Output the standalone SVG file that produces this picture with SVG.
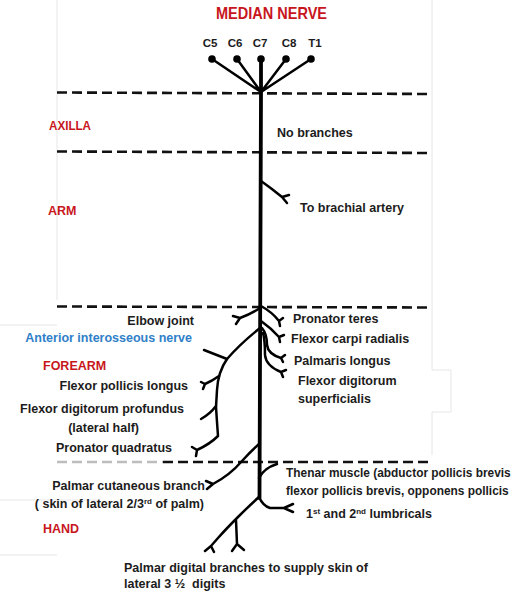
<svg xmlns="http://www.w3.org/2000/svg" width="519" height="598" viewBox="0 0 519 598">
<style>
  text { font-family: "Liberation Sans", Arial, sans-serif; font-weight: bold; font-size: 12.5px; fill: #1c1c1c; white-space: pre; }
  .red { fill: #c8161d; }
  .blue { fill: #2f80c8; }
  .end { text-anchor: end; }
  .mid { text-anchor: middle; }
  .sup { font-size: 8px; }
  .dash { stroke: #111; stroke-width: 2.6; stroke-dasharray: 10 5; fill: none; }
  .trunk { stroke: #000; stroke-width: 3.8; fill: none; stroke-linecap: round; }
  .nerve { stroke: #000; stroke-width: 2.5; fill: none; stroke-linecap: round; stroke-linejoin: round; }
  .faint { stroke: #e6e6e6; stroke-width: 1; fill: none; }
</style>
<rect width="519" height="598" fill="#fff"/>

<g id="background">
  <path class="faint" d="M432,0 V370 H451 V412 H432 V455 M57,0 V300 M0,325 H57 M0,500 H100 M0,555 H57"/>
</g>

<g id="regions">
  <line class="dash" x1="57" y1="92.5" x2="432" y2="94"/>
  <line class="dash" x1="57" y1="151.5" x2="432" y2="153"/>
  <line class="dash" x1="57" y1="306.5" x2="432" y2="307.5"/>
  <line class="dash" x1="57" y1="462" x2="163" y2="462" style="stroke:#bdbdbd"/>
  <line class="dash" x1="163" y1="462" x2="430" y2="462"/>
</g>

<g id="connectors">
  <g id="roots">
    <circle cx="212" cy="59" r="3.8" fill="#000"/>
    <circle cx="237" cy="59" r="3.8" fill="#000"/>
    <circle cx="261" cy="59" r="3.8" fill="#000"/>
    <circle cx="286" cy="59" r="3.8" fill="#000"/>
    <circle cx="311" cy="59" r="3.8" fill="#000"/>
    <path class="nerve" d="M212,59 L261,92 M237,59 L261,92 M286,59 L261,92 M311,59 L261,92"/>
  </g>
  <path class="trunk" d="M261,59 L261,92 L259.5,498"/>
  <path class="nerve" d="M261,181 Q271,188 282,197 M282,197 L289,195 M282,197 L287,203"/>
  <path class="nerve" d="M260,308 Q251,314 240,318 M240,318 L233,316 M240,318 L236,324"/>
  <path class="nerve" d="M261,306 Q272,312 279,321 M279,321 L283,318 M279,321 L280,326"/>
  <path class="nerve" d="M261,321 Q271,328 279,337 M279,337 L284,335 M279,337 L280,342"/>
  <path class="nerve" d="M262,328 Q267,334 267,345 Q268,354 281,358 M281,358 L285,355 M281,358 L283,362"/>
  <path class="nerve" d="M263,333 Q265,340 265,355 Q266,366 281,372 M281,372 L286,370 M281,372 L283,377"/>
  <path class="nerve" d="M260,328 Q240,344 227,359 Q218,372 217,390 L216,407 L217,422 L218,436 Q210,444 197,450 M197,450 L192,447 M197,450 L196,456"/>
  <path class="nerve" d="M227,359 L204,350"/>
  <path class="nerve" d="M219,376 Q212,381 205,384 M205,384 L201,382 M205,384 L203,389"/>
  <path class="nerve" d="M216,406 Q210,414 201,419"/>
  <path class="nerve" d="M259,444 Q250,452 242,461 Q230,475 213,484 M213,484 L206,481 M213,484 L207,489"/>
  <path class="nerve" d="M259,478 Q264,468 277,464"/>
  <path class="nerve" d="M259,497 Q263,506 270,508 L284,508 M284,508 L293,504 M284,508 L293,512"/>
  <path class="nerve" d="M259,497 Q249,506 238,517 Q226,529 218,538 L211,546 M211,546 L205,551 M211,546 L214,552"/>
  <path class="nerve" d="M236,520 L237,544 M237,544 L232,551 M237,544 L244,550"/>
</g>

<g id="title"><text class="red mid" x="271.5" y="19" style="font-size:16.5px" textLength="111" lengthAdjust="spacingAndGlyphs">MEDIAN NERVE</text></g>
<g id="root-labels">
  <text class="mid" x="210" y="47" style="font-size:11.5px">C5</text>
  <text class="mid" x="235" y="47" style="font-size:11.5px">C6</text>
  <text class="mid" x="260" y="47" style="font-size:11.5px">C7</text>
  <text class="mid" x="289" y="47" style="font-size:11.5px">C8</text>
  <text class="mid" x="315" y="47" style="font-size:11.5px">T1</text>
</g>

<g id="axilla"><text class="red" x="49" y="130" textLength="42" lengthAdjust="spacingAndGlyphs">AXILLA</text></g>
<g id="no-branches"><text x="277" y="137">No branches</text></g>
<g id="arm"><text class="red" x="48" y="215">ARM</text></g>
<g id="brachial-artery"><text x="300" y="212">To brachial artery</text></g>

<g id="elbow-joint"><text class="end" x="194" y="325">Elbow joint</text></g>
<g id="anterior-interosseous"><text class="blue end" x="192" y="342">Anterior interosseous nerve</text></g>
<g id="forearm"><text class="red" x="43" y="370">FOREARM</text></g>
<g id="fpl"><text class="end" x="188" y="390">Flexor pollicis longus</text></g>
<g id="fdp">
  <text class="end" x="184" y="413">Flexor digitorum profundus</text>
  <text class="end" x="139" y="432">(lateral half)</text>
</g>
<g id="pq"><text class="end" x="172" y="452">Pronator quadratus</text></g>

<g id="pronator-teres"><text x="293" y="323">Pronator teres</text></g>
<g id="fcr"><text x="291" y="343">Flexor carpi radialis</text></g>
<g id="palmaris-longus"><text x="294" y="365">Palmaris longus</text></g>
<g id="fds">
  <text x="298" y="385">Flexor digitorum</text>
  <text x="298" y="403">superficialis</text>
</g>

<g id="palmar-cutaneous">
  <text class="end" x="205" y="490">Palmar cutaneous branch</text>
  <text class="end" x="204" y="508">( skin of lateral 2/3<tspan class="sup" dy="-4.5">rd</tspan><tspan dy="4.5"> of palm)</tspan></text>
</g>
<g id="hand"><text class="red" x="43" y="533">HAND</text></g>
<g id="thenar">
  <text x="286" y="477" style="font-size:11.9px">Thenar muscle (abductor pollicis brevis</text>
  <text x="286" y="495" style="font-size:11.9px">flexor pollicis brevis, opponens pollicis</text>
</g>
<g id="lumbricals"><text x="306" y="518">1<tspan class="sup" dy="-4.5">st</tspan><tspan dy="4.5"> and 2</tspan><tspan class="sup" dy="-4.5">nd</tspan><tspan dy="4.5"> lumbricals</tspan></text></g>
<g id="palmar-digital">
  <text x="124" y="572">Palmar digital branches to supply skin of</text>
  <text x="124" y="588">lateral 3 ½  digits</text>
</g>
</svg>
